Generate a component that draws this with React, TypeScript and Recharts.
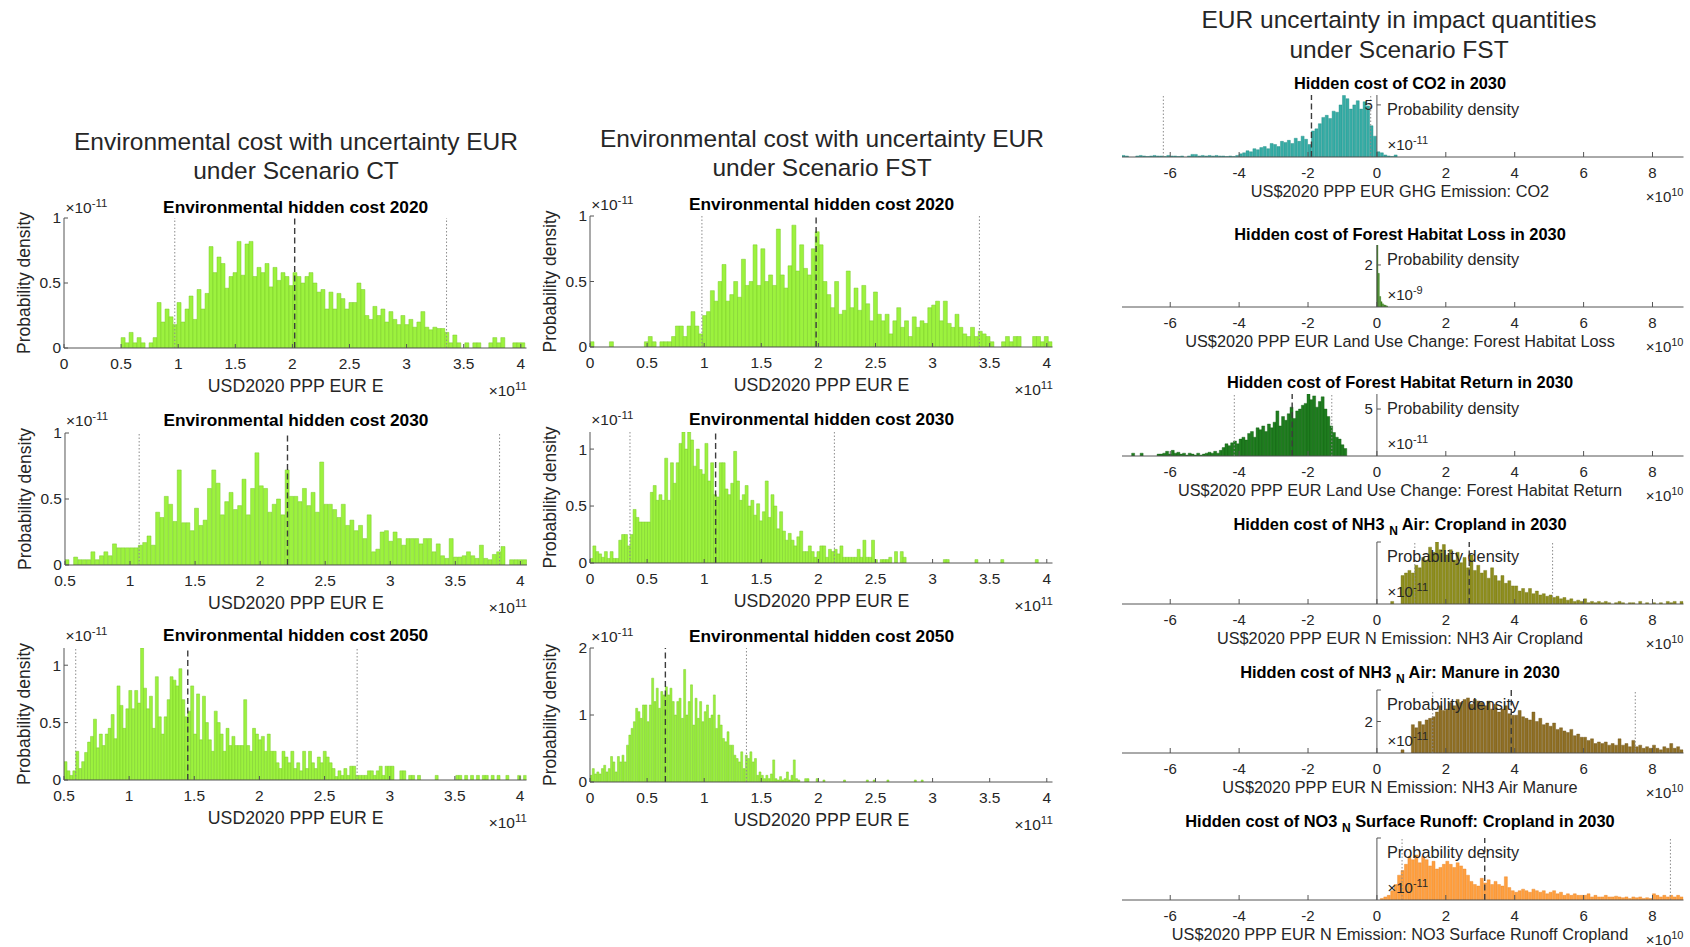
import React from 'react';
import { ComposedChart, Bar, XAxis, YAxis, ReferenceLine, ReferenceDot } from 'recharts';

const FONT = "'Liberation Sans', Arial, Helvetica, sans-serif";
const AXIS = '#555555';
const TXT = '#262626';

// ---------- tick labels ----------
const ticksFrom0 = [0, 0.5, 1, 1.5, 2, 2.5, 3, 3.5, 4];
const ticksFrom05 = [0.5, 1, 1.5, 2, 2.5, 3, 3.5, 4];
const ticksRight = [-6, -4, -2, 0, 2, 4, 6, 8];
const yTicksUnit = [0, 0.5, 1];
const yTicksTwo = [0, 1, 2];

// ---------- Scenario CT ----------
const ct2020Range = [0.5, 4.035];
const ct2020Density = [
  0.08, 0.04, 0.12, 0.04, 0.08, 0.04, 0.0, 0.04, 0.08, 0.35,
  0.2, 0.3, 0.24, 0.18, 0.35, 0.2, 0.3, 0.4, 0.22, 0.45,
  0.3, 0.42, 0.78, 0.58, 0.7, 0.65, 0.46, 0.55, 0.58, 0.82,
  0.56, 0.8, 0.82, 0.55, 0.62, 0.58, 0.65, 0.47, 0.62, 0.52,
  0.58, 0.55, 0.48, 0.58, 0.55, 0.5, 0.55, 0.58, 0.5, 0.43,
  0.45, 0.3, 0.43, 0.3, 0.42, 0.38, 0.3, 0.35, 0.35, 0.5,
  0.45, 0.25, 0.22, 0.32, 0.25, 0.3, 0.2, 0.28, 0.22, 0.18,
  0.25, 0.18, 0.22, 0.16, 0.2, 0.28, 0.16, 0.14, 0.16, 0.15,
  0.15, 0.12, 0.04, 0.1, 0.04, 0.0, 0.04, 0.0, 0.04, 0.04,
  0.0, 0.0, 0.04, 0.08, 0.04, 0.08, 0.0, 0.0, 0.04, 0.04, 0.04,
];
const ct2020Marks = [0.97, 2.02, 3.35];

const ct2030Range = [0.5, 4.05];
const ct2030Density = [
  0.04, 0.0, 0.06, 0.04, 0.04, 0.04, 0.1, 0.04, 0.07, 0.1, 0.07, 0.16, 0.13, 0.13, 0.13, 0.13, 0.13,
  0.15, 0.17, 0.22, 0.15, 0.4, 0.36, 0.52, 0.46, 0.33, 0.72,
  0.32, 0.32, 0.26, 0.43, 0.3, 0.34, 0.58, 0.72, 0.62, 0.38,
  0.48, 0.55, 0.42, 0.45, 0.65, 0.38, 0.58, 0.85, 0.6, 0.58,
  0.4, 0.46, 0.5, 0.38, 0.72, 0.52, 0.52, 0.48, 0.58, 0.45,
  0.55, 0.4, 0.78, 0.46, 0.46, 0.42, 0.36, 0.46, 0.3, 0.34,
  0.26, 0.3, 0.2, 0.38, 0.1, 0.12, 0.25, 0.26, 0.18, 0.25,
  0.2, 0.15, 0.2, 0.2, 0.2, 0.16, 0.2, 0.2, 0.1, 0.16,
  0.07, 0.05, 0.2, 0.06, 0.06, 0.07, 0.1, 0.07, 0.05, 0.15,
  0.05, 0.04, 0.08, 0.1, 0.14, 0.0, 0.04, 0.04, 0.04, 0.04,
];
const ct2030Marks = [1.07, 2.21, 3.84];

const ct2050Range = [0.5, 4.05];
const ct2050Density = [
  0.16, 0.08, 0.04, 0.08, 0.25, 0.1, 0.16, 0.24, 0.33, 0.38, 0.53, 0.28, 0.4, 0.3, 0.4, 0.45, 0.57, 0.36, 0.82, 0.65, 0.45, 0.62, 0.78,
  0.62, 0.78, 0.67, 1.15, 0.8, 0.62, 0.73, 0.45, 0.9, 0.55, 0.4, 0.55, 0.7, 0.9, 0.87, 0.82, 0.97, 0.7, 0.55, 0.6, 0.82, 0.4,
  0.75, 0.35, 0.73, 0.5, 0.35, 0.25, 0.6, 0.5, 0.4, 0.25, 0.45, 0.3, 0.38, 0.3, 0.3, 0.3, 0.7, 0.3, 0.25, 0.45, 0.4, 0.35,
  0.38, 0.25, 0.4, 0.25, 0.25, 0.15, 0.1, 0.25, 0.2, 0.15, 0.25, 0.1, 0.15, 0.08, 0.25, 0.1, 0.25, 0.15, 0.1, 0.2, 0.15, 0.25,
  0.2, 0.15, 0.1, 0.03, 0.08, 0.04, 0.1, 0.04, 0.12, 0.12, 0.04, 0.04, 0.04, 0.04, 0.08, 0.08, 0.04, 0.08, 0.12, 0.04, 0.12, 0.12,
  0.12, 0.0, 0.0, 0.08, 0.08, 0.0, 0.04, 0.04, 0.0, 0.04, 0.0, 0.0, 0.0, 0.0, 0.0, 0.04, 0.0, 0.0, 0.0, 0.0, 0.0, 0.0,
  0.04, 0.04, 0.0, 0.04, 0.0, 0.04, 0.0, 0.04, 0.0, 0.04, 0.04, 0.0, 0.04, 0.0, 0.04, 0.0, 0.0, 0.04, 0.0, 0.0, 0.0, 0.04, 0.0, 0.04,
];
const ct2050Marks = [0.59, 1.45, 2.75];

// ---------- Scenario FST ----------
const fst2020Range = [0, 4.046];
const fst2020Density = [
  0.04, 0, 0, 0, 0, 0.04, 0, 0, 0, 0, 0, 0, 0, 0,
  0.04, 0.08, 0.04, 0, 0.04, 0.04, 0.04, 0.08, 0.16, 0.16,
  0.08, 0.16, 0.27, 0.16, 0.1, 0.24, 0.27, 0.43, 0.35, 0.5,
  0.63, 0.35, 0.4, 0.5, 0.38, 0.67, 0.47, 0.5, 0.78, 0.47,
  0.75, 0.5, 0.55, 0.47, 0.9, 0.55, 0.45, 0.62, 0.93, 0.58,
  0.78, 0.6, 0.55, 0.75, 0.88, 0.78, 0.5, 0.4, 0.3, 0.5,
  0.25, 0.28, 0.58, 0.3, 0.45, 0.28, 0.47, 0.33, 0.2, 0.42,
  0.25, 0.2, 0.25, 0.1, 0.2, 0.3, 0.15, 0.2, 0.08, 0.23,
  0.15, 0.2, 0.18, 0.3, 0.32, 0.35, 0.2, 0.35, 0.18, 0.15,
  0.25, 0.15, 0.1, 0.08, 0.15, 0.08, 0.12, 0.1, 0.08, 0.04,
  0, 0, 0.04, 0.08, 0.04, 0.08, 0.08, 0, 0, 0,
  0.08, 0.08, 0.04, 0.08, 0.04,
];
const fst2020Marks = [0.98, 1.98, 3.41];

const fst2030Range = [0, 4.05];
const fst2030Density = [
  0.04, 0.15, 0.1, 0.08, 0.05, 0.1, 0.04, 0.1, 0.04, 0.04,
  0.2, 0.25, 0.25, 0.15, 0.25, 0.47, 0.4, 0.36, 0.36, 0.36,
  0.36, 0.62, 0.68, 0.55, 0.6, 0.55, 0.92, 0.55, 0.88, 0.7,
  0.88, 1.05, 1.15, 1.0, 1.15, 1.08, 0.85, 1.0, 0.82, 0.78,
  1.05, 0.72, 0.88, 0.6, 0.58, 0.88, 0.88, 0.65, 0.6, 0.7,
  0.98, 0.72, 0.55, 0.6, 0.68, 0.5, 0.55, 0.42, 0.52, 0.37,
  0.45, 0.72, 0.4, 0.6, 0.5, 0.3, 0.45, 0.28, 0.2, 0.26,
  0.2, 0.15, 0.23, 0.28, 0.1, 0.1, 0.15, 0.1, 0.05, 0.1,
  0.15, 0.15, 0.05, 0.12, 0.1, 0.12, 0.08, 0.15, 0.05, 0.05,
  0.05, 0.05, 0.05, 0.12, 0.05, 0.2, 0.05, 0.05, 0.2, 0.03,
  0, 0.03, 0.03, 0.03, 0.05, 0, 0.1, 0, 0.1, 0.05, 0,
  0, 0, 0, 0, 0, 0, 0, 0, 0, 0,
  0, 0, 0.03, 0.03, 0, 0, 0, 0, 0, 0,
  0, 0, 0, 0.03, 0, 0, 0, 0, 0, 0,
  0, 0, 0.03, 0, 0, 0, 0, 0, 0, 0,
  0, 0, 0, 0, 0.03, 0, 0, 0, 0, 0,
];
const fst2030Marks = [0.35, 1.1, 2.14];

const fst2050Range = [0, 3.0];
const fst2050Density = [
  0.1, 0.2, 0.12, 0.15, 0.12, 0.2, 0.25, 0.15, 0.2, 0.38, 0.3, 0.15, 0.38, 0.3, 0.4, 0.3, 0.55, 0.7, 0.8, 0.9, 1.1, 1.05, 0.95, 1.15, 1.15,
  0.9, 1.15, 1.55, 1.2, 1.4, 1.1, 1.35, 1.3, 1.42, 1.3, 1.4, 1.2, 1.0, 1.2, 1.25, 0.95, 1.68, 1.0, 1.2, 1.45, 0.85, 1.25, 0.95, 1.2, 0.9,
  1.05, 1.15, 0.95, 1.0, 1.3, 0.8, 1.0, 0.85, 0.65, 0.6, 0.75, 0.55, 0.55, 0.4, 0.35, 0.3, 0.45, 0.2, 0.4, 0.35, 0.45, 0.3, 0.35, 0.1, 0.15,
  0.1, 0.05, 0.1, 0.05, 0.12, 0.33, 0.05, 0.03, 0.08, 0.03, 0.05, 0.15, 0.03, 0.1, 0.33, 0.05, 0.03, 0, 0, 0.05, 0.05, 0, 0, 0, 0.05,
  0, 0, 0.03, 0, 0, 0, 0, 0, 0, 0, 0, 0.03, 0, 0, 0, 0, 0, 0, 0, 0, 0, 0.03, 0, 0, 0.03,
  0, 0, 0, 0, 0, 0.03, 0, 0, 0, 0, 0, 0, 0, 0, 0, 0, 0, 0.03, 0, 0, 0.03, 0, 0, 0, 0,
];
const fst2050Marks = [0.66, 1.37];

// ---------- impact quantities (FST, 2030) ----------
const co2Range = [-7.4, 0.6];
const co2Density = [
  0.15, 0.1, 0, 0, 0.1, 0.15, 0.1, 0.05, 0.1, 0.15, 0.1, 0.1, 0.05, 0.15, 0.1, 0.1, 0.05,
  0.1, 0, 0.1, 0.25, 0.25, 0.1, 0.15, 0.1, 0.15, 0.1, 0.15, 0.1, 0.1, 0.05, 0.1, 0.05, 0.15,
  0.3, 0.4, 0.6, 0.5, 0.8, 0.7, 0.9, 1.0, 0.8, 1.3, 1.2, 1.0, 1.5, 1.4, 1.6, 1.3, 1.8, 1.5, 2.0, 1.7,
  1.2, 2.5, 2.7, 3.2, 3.8, 4.0, 3.7, 4.4, 4.3, 5.0, 5.9, 5.6, 4.6, 5.0, 5.4, 4.6, 5.3, 4.9, 3.0, 2.0,
  0.5, 0.4, 0.2, 0.1, 0.05, 0.2,
];
const co2Marks = [-6.2, -1.9, -0.18];

const forestLossRange = [0, 0.32];
const forestLossDensity = [2.95, 1.6, 0.5, 0.25, 0.15, 0.1, 0.08, 0.05];

const forestReturnRange = [-7.12, -0.88];
const forestReturnDensity = [
  0.3, 0, 0, 0.3, 0, 0, 0, 0, 0, 0.2, 0.2, 0.3, 0.5, 0.2, 0.6, 0.3,
  0.4, 0.2, 0.3, 0.1, 0.3, 0.2, 0.1, 0.3, 0.1, 0.2, 0.3, 0.4, 0.3, 0.5, 0.3, 0.6,
  0.9, 1.3, 1.1, 1.4, 1.6, 1.3, 1.8, 2.0, 1.7, 2.4, 2.6, 2.0, 3.0, 2.8, 3.2, 2.6, 3.4, 3.0,
  3.6, 4.8, 3.2, 4.2, 3.8, 4.5, 5.2, 4.0, 4.8, 5.0, 5.4, 5.6,
  6.6, 6.0, 6.4, 5.2, 5.8, 6.3, 5.0, 4.2, 3.2, 2.5, 2.0, 1.8, 1.2, 0.8,
];
const forestReturnMarks = [-4.14, -2.46, -1.31];

const nh3CropRange = [0.4, 8.9];
const nh3CropDensity = [
  0.1, 0, 0, 1.1, 1.2, 1.3,
  1.2, 1.5, 1.4, 1.8, 1.7, 2.2, 2.0, 2.4, 2.1, 2.3,
  1.9, 2.1, 1.7, 2.0, 1.6, 1.8, 1.4, 1.9, 1.3, 1.5,
  1.2, 1.3, 1.0, 1.4, 1.1, 0.9, 1.1, 0.8, 0.9, 0.7,
  0.7, 0.5, 0.6, 0.45, 0.6, 0.4, 0.5, 0.35, 0.4, 0.3,
  0.35, 0.25, 0.3, 0.2, 0.25, 0.15, 0.2, 0.1, 0.15, 0.1,
  0.2, 0.05, 0.1, 0.05, 0.1, 0.05, 0.1, 0.05, 0, 0.05,
  0.1, 0.05, 0, 0.05, 0.05, 0, 0.1, 0, 0.05, 0,
  0.05, 0, 0.05, 0, 0.1, 0.05, 0.1, 0, 0.1,
];
const nh3CropMarks = [1.1, 2.68, 5.1];

const nh3ManureRange = [0.7, 8.9];
const nh3ManureDensity = [
  0.2, 0, 0, 1.8, 1.6, 2.0, 1.8, 2.1,
  2.2, 2.3, 2.6, 3.0, 2.7, 2.8, 3.2, 3.0, 3.4, 3.2,
  3.4, 3.5, 3.1, 3.4, 3.3, 3.2, 3.0, 3.3, 2.8, 3.1,
  2.6, 2.8, 3.0, 2.5, 2.4, 2.4, 2.7, 2.3, 2.2, 2.1,
  2.6, 2.0, 2.2, 1.8, 1.9, 1.7, 1.9, 1.5, 1.6, 1.4,
  1.3, 1.5, 1.1, 1.2, 1.0, 1.0, 0.8, 0.9, 0.6, 0.7,
  0.6, 0.7, 0.5, 0.6, 0.5, 0.9, 0.5, 0.6, 0.4, 0.8,
  0.4, 0.5, 0.3, 0.4, 0.3, 0.5, 0.3, 0.2, 0.4, 0.3,
  0.6, 0.3, 0.4, 0.2,
];
const nh3ManureMarks = [1.62, 3.9, 7.5];

const no3Range = [0.1, 8.9];
const no3Density = [
  0.1, 0.2, 0.3, 0.6,
  1.0, 1.6, 1.9, 2.3, 2.8, 2.6, 2.9, 2.4, 2.8, 2.6,
  2.2, 2.5, 2.0, 2.1, 2.3, 2.5, 2.3, 2.1, 2.4, 2.2,
  2.0, 1.6, 1.2, 1.0, 0.9, 1.4, 1.1, 1.3, 1.0, 1.2,
  1.0, 0.9, 1.5, 0.8, 0.6, 0.5, 0.6, 0.7, 0.6, 0.5,
  0.7, 0.6, 0.5, 0.6, 0.4, 0.5, 0.6, 0.4, 0.5, 0.3,
  0.4, 0.3, 0.4, 0.3, 0.3, 0.3, 0.4, 0.2, 0.3, 0.2,
  0.2, 0.3, 0.2, 0.2, 0.25, 0.2, 0.15, 0.2, 0.1, 0.2,
  0.15, 0.2, 0.1, 0.15, 0.1, 0.4, 0.3, 0.2, 0.3, 0.2,
  0.3, 0.2, 0.3, 0.2,
];
const no3Marks = [0.73, 3.13, 8.52];

// ---------- helpers ----------
type Pt = { x: number; d: number };
function toBins(range: number[], dens: number[]): Pt[] {
  const w = (range[1] - range[0]) / dens.length;
  return dens.map((d, i) => ({ x: range[0] + w * (i + 0.5), d }));
}

const XTick = (props: any) => {
  const { x, y, payload, fs, len, dy } = props;
  return (
    <g>
      <line x1={x} x2={x} y1={y} y2={y - len} stroke={AXIS} strokeWidth={1} />
      <text x={x} y={y + dy} textAnchor="middle" fontSize={fs} fontFamily={FONT} fill={TXT}>
        {String(payload.value)}
      </text>
    </g>
  );
};

const YTick = (props: any) => {
  const { x, y, payload, fs, len } = props;
  return (
    <g>
      <line x1={x} x2={x + len} y1={y} y2={y} stroke={AXIS} strokeWidth={1} />
      <text x={x - 3} y={y} dy="0.35em" textAnchor="end" fontSize={fs} fontFamily={FONT} fill={TXT}>
        {String(payload.value)}
      </text>
    </g>
  );
};

type Geo = { left: number; top: number; width: number; height: number };

const LP = { l: 52, t: 14, r: 14, b: 30 };
const RP = { l: 10, t: 8, r: 6, b: 28 };

const DOT = { stroke: '#8c8c8c', dash: '1.5 2', w: 1 };
const DASH = { stroke: '#3c3c3c', dash: '6 3.5', w: 1.4 };

function renderMarks(marks: number[]) {
  // 3 marks: [lower dotted, dashed median, upper dotted]; 2 marks: [dashed median, upper dotted]
  const out: any[] = [];
  if (marks.length === 3) {
    out.push(<ReferenceLine key="m0" x={marks[0]} stroke={DOT.stroke} strokeDasharray={DOT.dash} strokeWidth={DOT.w} />);
    out.push(<ReferenceLine key="m2" x={marks[2]} stroke={DOT.stroke} strokeDasharray={DOT.dash} strokeWidth={DOT.w} />);
    out.push(<ReferenceLine key="m1" x={marks[1]} stroke={DASH.stroke} strokeDasharray={DASH.dash} strokeWidth={DASH.w} />);
  } else if (marks.length === 2) {
    out.push(<ReferenceLine key="m1" x={marks[1]} stroke={DOT.stroke} strokeDasharray={DOT.dash} strokeWidth={DOT.w} />);
    out.push(<ReferenceLine key="m0" x={marks[0]} stroke={DASH.stroke} strokeDasharray={DASH.dash} strokeWidth={DASH.w} />);
  }
  return out;
}

function LeftPanel(p: Geo & { data: Pt[]; xDomain: number[]; xTicks: number[]; yTop: number; yTicks: number[]; marks: number[] }) {
  const W = p.width + LP.l + LP.r;
  const H = p.height + LP.t + LP.b;
  return (
    <div style={{ position: 'absolute', left: p.left - LP.l, top: p.top - LP.t, width: W, height: H }}>
      <ComposedChart width={W} height={H} data={p.data} margin={{ top: LP.t, right: LP.r, bottom: 0, left: 0 }} barCategoryGap={0} barGap={0}>
        <XAxis dataKey="x" type="number" domain={p.xDomain as any} allowDataOverflow ticks={p.xTicks} interval={0}
          height={LP.b} tickSize={0} tickMargin={0} axisLine={{ stroke: AXIS, strokeWidth: 1 }} tickLine={false}
          tick={(t: any) => <XTick {...t} fs={15.5} len={4} dy={21} />} />
        <YAxis type="number" domain={[0, p.yTop]} allowDataOverflow ticks={p.yTicks} interval={0}
          width={LP.l} tickSize={0} tickMargin={0} axisLine={{ stroke: AXIS, strokeWidth: 1 }} tickLine={false}
          tick={(t: any) => <YTick {...t} fs={15.5} len={4} />} />
        <Bar dataKey="d" fill="#9cf23e" stroke="#7acb2a" strokeWidth={0.5} isAnimationActive={false} />
        {renderMarks(p.marks)}
      </ComposedChart>
    </div>
  );
}

function RightPanel(p: Geo & { data: Pt[]; yTop: number; yTicks: { v: number; label: string }[]; marks: number[]; fill: string; edge: string }) {
  const W = p.width + RP.l + RP.r;
  const H = p.height + RP.t + RP.b;
  return (
    <div style={{ position: 'absolute', left: p.left - RP.l, top: p.top - RP.t, width: W, height: H }}>
      <ComposedChart width={W} height={H} data={p.data} margin={{ top: RP.t, right: RP.r, bottom: 0, left: RP.l }} barCategoryGap={0} barGap={0}>
        <XAxis dataKey="x" type="number" domain={[-7.4, 8.9]} allowDataOverflow ticks={ticksRight} interval={0}
          height={RP.b} tickSize={0} tickMargin={0} axisLine={{ stroke: AXIS, strokeWidth: 1 }} tickLine={false}
          tick={(t: any) => <XTick {...t} fs={15} len={5} dy={20.5} />} />
        <YAxis hide type="number" domain={[0, p.yTop]} allowDataOverflow />
        <Bar dataKey="d" fill={p.fill} stroke={p.edge} strokeWidth={0.4} isAnimationActive={false} />
        {renderMarks(p.marks)}
        <ReferenceLine x={0} stroke={AXIS} strokeWidth={1} />
        {p.yTicks.map((t, i) => (
          <ReferenceDot key={'yt' + i} x={0} y={t.v} r={1} ifOverflow="visible"
            shape={(s: any) => (
              <g>
                <line x1={s.cx} x2={s.cx + 4} y1={s.cy} y2={s.cy} stroke={AXIS} strokeWidth={1} />
                {t.label ? (
                  <text x={s.cx - 4} y={s.cy} dy="0.35em" textAnchor="end" fontSize={15} fontFamily={FONT} fill={TXT}>{t.label}</text>
                ) : null}
              </g>
            )} />
        ))}
      </ComposedChart>
    </div>
  );
}

// ---------- layout ----------
const C1 = 64.4;
const C2 = 590.3;
const LW = 462.5;
const leftPanels = [
  { key: 'ct20', geo: { left: C1, top: 218, width: LW, height: 130 }, data: toBins(ct2020Range, ct2020Density), xDomain: [0, 4.05], xTicks: ticksFrom0, yTop: 1, yTicks: yTicksUnit, marks: ct2020Marks, title: 'Environmental hidden cost 2020', tb: 213 },
  { key: 'ct30', geo: { left: C1 + 0.6, top: 433, width: LW - 0.6, height: 132 }, data: toBins(ct2030Range, ct2030Density), xDomain: [0.5, 4.05], xTicks: ticksFrom05, yTop: 1, yTicks: yTicksUnit, marks: ct2030Marks, title: 'Environmental hidden cost 2030', tb: 426 },
  { key: 'ct50', geo: { left: C1, top: 648, width: LW, height: 132 }, data: toBins(ct2050Range, ct2050Density), xDomain: [0.5, 4.05], xTicks: ticksFrom05, yTop: 1.15, yTicks: yTicksUnit, marks: ct2050Marks, title: 'Environmental hidden cost 2050', tb: 641 },
  { key: 'fs20', geo: { left: C2, top: 216, width: LW, height: 131 }, data: toBins(fst2020Range, fst2020Density), xDomain: [0, 4.05], xTicks: ticksFrom0, yTop: 1, yTicks: yTicksUnit, marks: fst2020Marks, title: 'Environmental hidden cost 2020', tb: 210 },
  { key: 'fs30', geo: { left: C2, top: 432, width: LW, height: 131 }, data: toBins(fst2030Range, fst2030Density), xDomain: [0, 4.05], xTicks: ticksFrom0, yTop: 1.15, yTicks: yTicksUnit, marks: fst2030Marks, title: 'Environmental hidden cost 2030', tb: 425 },
  { key: 'fs50', geo: { left: C2, top: 648, width: LW, height: 134 }, data: toBins(fst2050Range, fst2050Density), xDomain: [0, 4.05], xTicks: ticksFrom0, yTop: 2, yTicks: yTicksTwo, marks: fst2050Marks, title: 'Environmental hidden cost 2050', tb: 642 },
];

const RL = 1122;
const RW = 561.5;
const RC = 1400;
const rightPanels = [
  { key: 'co2', geo: { left: RL, top: 95, width: RW, height: 62 }, data: toBins(co2Range, co2Density), yTop: 5.95, yTicks: [{ v: 5, label: '5' }], marks: co2Marks, fill: '#36aca5', edge: '#1f8a84', exp: '-11', tb: 89, pre: 'Hidden cost of CO2 in 2030', sub: '', post: '', xl: 'US$2020 PPP EUR GHG Emission: CO2' },
  { key: 'fl', geo: { left: RL, top: 245, width: RW, height: 62 }, data: toBins(forestLossRange, forestLossDensity), yTop: 2.95, yTicks: [{ v: 2, label: '2' }], marks: [], fill: '#3c8c18', edge: '#2a6e0e', exp: '-9', tb: 240, pre: 'Hidden cost of Forest Habitat Loss in 2030', sub: '', post: '', xl: 'US$2020 PPP EUR Land Use Change: Forest Habitat Loss' },
  { key: 'fr', geo: { left: RL, top: 394, width: RW, height: 62 }, data: toBins(forestReturnRange, forestReturnDensity), yTop: 6.6, yTicks: [{ v: 5, label: '5' }], marks: forestReturnMarks, fill: '#1f7d1f', edge: '#115e11', exp: '-11', tb: 388, pre: 'Hidden cost of Forest Habitat Return in 2030', sub: '', post: '', xl: 'US$2020 PPP EUR Land Use Change: Forest Habitat Return' },
  { key: 'nc', geo: { left: RL, top: 542, width: RW, height: 62 }, data: toBins(nh3CropRange, nh3CropDensity), yTop: 2.4, yTicks: [{ v: 2.4, label: '' }], marks: nh3CropMarks, fill: '#8e8e1e', edge: '#6e6e10', exp: '-11', tb: 530, pre: 'Hidden cost of NH3 ', sub: 'N', post: ' Air: Cropland in 2030', xl: 'US$2020 PPP EUR N Emission: NH3 Air Cropland' },
  { key: 'nm', geo: { left: RL, top: 690, width: RW, height: 63 }, data: toBins(nh3ManureRange, nh3ManureDensity), yTop: 4, yTicks: [{ v: 2, label: '2' }, { v: 4, label: '' }], marks: nh3ManureMarks, fill: '#8f6f24', edge: '#6d5216', exp: '-11', tb: 678, pre: 'Hidden cost of NH3 ', sub: 'N', post: ' Air: Manure in 2030', xl: 'US$2020 PPP EUR N Emission: NH3 Air Manure' },
  { key: 'no', geo: { left: RL, top: 838, width: RW, height: 62 }, data: toBins(no3Range, no3Density), yTop: 4, yTicks: [{ v: 4, label: '' }], marks: no3Marks, fill: '#ffa040', edge: '#e8801e', exp: '-11', tb: 827, pre: 'Hidden cost of NO3 ', sub: 'N', post: ' Surface Runoff: Cropland in 2030', xl: 'US$2020 PPP EUR N Emission: NO3 Surface Runoff Cropland' },
];

function Overlay() {
  const els: any[] = [];
  const mainT = (x: number, y: number, s: string, fs: number, k: string) => (
    <text key={k} x={x} y={y} textAnchor="middle" fontSize={fs} fontFamily={FONT} fill={TXT}>{s}</text>
  );
  els.push(mainT(296, 149.5, 'Environmental cost with uncertainty EUR', 24.5, 'm1'));
  els.push(mainT(296, 179, 'under Scenario CT', 24.5, 'm2'));
  els.push(mainT(822, 146.5, 'Environmental cost with uncertainty EUR', 24.5, 'm3'));
  els.push(mainT(822, 176, 'under Scenario FST', 24.5, 'm4'));
  els.push(mainT(1399, 28, 'EUR uncertainty in impact quantities', 24.5, 'm5'));
  els.push(mainT(1399, 58, 'under Scenario FST', 24.5, 'm6'));

  leftPanels.forEach((p) => {
    const g = p.geo;
    const cx = g.left + g.width / 2;
    const bottom = g.top + g.height;
    els.push(<text key={p.key + 't'} x={cx} y={p.tb} textAnchor="middle" fontSize={17.3} fontWeight="bold" fontFamily={FONT} fill="#000">{p.title}</text>);
    els.push(<text key={p.key + 'e'} x={g.left + 1} y={p.tb} fontSize={15.5} fontFamily={FONT} fill={TXT}>×10<tspan dy={-6} fontSize={11.5}>-11</tspan></text>);
    els.push(<text key={p.key + 'x'} x={cx} y={bottom + 44} textAnchor="middle" fontSize={17.7} fontFamily={FONT} fill={TXT}>USD2020 PPP EUR E</text>);
    els.push(<text key={p.key + 'xe'} x={g.left + g.width} y={bottom + 48} textAnchor="end" fontSize={15.5} fontFamily={FONT} fill={TXT}>×10<tspan dy={-6} fontSize={11.5}>11</tspan></text>);
    const yx = g.left - 34;
    const yy = g.top + g.height / 2;
    els.push(<text key={p.key + 'y'} x={yx} y={yy} textAnchor="middle" fontSize={17.5} fontFamily={FONT} fill={TXT} transform={`rotate(-90 ${yx} ${yy})`}>Probability density</text>);
  });

  rightPanels.forEach((p) => {
    const g = p.geo;
    const bottom = g.top + g.height;
    els.push(
      <text key={p.key + 't'} x={RC} y={p.tb} textAnchor="middle" fontSize={16.4} fontWeight="bold" fontFamily={FONT} fill="#000">
        {p.pre}
        {p.sub ? <tspan dy={5} fontSize={12}>{p.sub}</tspan> : null}
        {p.sub ? <tspan dy={-5}>{p.post}</tspan> : null}
      </text>
    );
    els.push(<text key={p.key + 'p'} x={1387} y={g.top + 20} fontSize={16.3} fontFamily={FONT} fill={TXT}>Probability density</text>);
    els.push(<text key={p.key + 'e'} x={1387.5} y={bottom - 7} fontSize={15} fontFamily={FONT} fill={TXT}>×10<tspan dy={-6} fontSize={11}>{p.exp}</tspan></text>);
    els.push(<text key={p.key + 'x'} x={RC} y={bottom + 40} textAnchor="middle" fontSize={16.3} fontFamily={FONT} fill={TXT}>{p.xl}</text>);
    els.push(<text key={p.key + 'xe'} x={g.left + g.width} y={bottom + 44.5} textAnchor="end" fontSize={15} fontFamily={FONT} fill={TXT}>×10<tspan dy={-6} fontSize={11}>10</tspan></text>);
  });

  return (
    <svg width={1690} height={947} style={{ position: 'absolute', left: 0, top: 0, pointerEvents: 'none' }}>
      {els}
    </svg>
  );
}

export default function App() {
  return (
    <div style={{ position: 'absolute', left: 0, top: 0, width: 1690, height: 947, background: '#fff', fontFamily: FONT, overflow: 'hidden' }}>
      {leftPanels.map((p) => (
        <LeftPanel key={p.key} {...p.geo} data={p.data} xDomain={p.xDomain} xTicks={p.xTicks} yTop={p.yTop} yTicks={p.yTicks} marks={p.marks} />
      ))}
      {rightPanels.map((p) => (
        <RightPanel key={p.key} {...p.geo} data={p.data} yTop={p.yTop} yTicks={p.yTicks} marks={p.marks} fill={p.fill} edge={p.edge} />
      ))}
      <Overlay />
    </div>
  );
}
